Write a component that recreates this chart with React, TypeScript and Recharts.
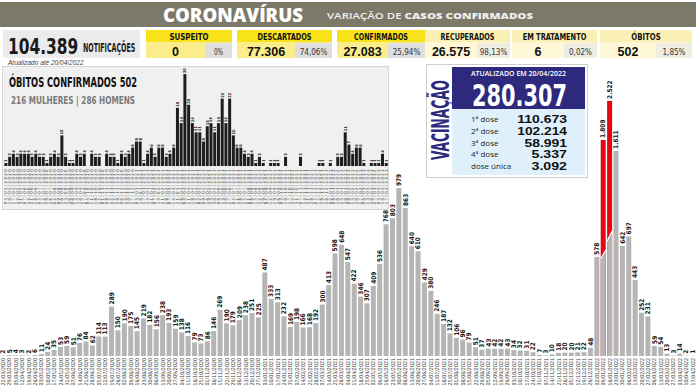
import React from "react";
import { BarChart, Bar, XAxis, YAxis, LabelList } from "recharts";

const NARROW = "'Liberation Sans Narrow', 'DejaVu Sans Condensed', 'Arial Narrow', sans-serif";
const SANS = "'Liberation Sans', Arial, sans-serif";
const ROUND = "'Open Sans', 'Noto Sans', sans-serif";

// one category per week (week start)
const weeks = [
  "22/03/2020", "29/03/2020", "05/04/2020", "12/04/2020", "19/04/2020", "26/04/2020", "03/05/2020", "10/05/2020",
  "17/05/2020", "24/05/2020", "31/05/2020", "07/06/2020", "14/06/2020", "21/06/2020", "28/06/2020", "05/07/2020",
  "12/07/2020", "19/07/2020", "26/07/2020", "02/08/2020", "09/08/2020", "16/08/2020", "23/08/2020", "30/08/2020",
  "06/09/2020", "13/09/2020", "20/09/2020", "27/09/2020", "04/10/2020", "11/10/2020", "18/10/2020", "25/10/2020",
  "01/11/2020", "08/11/2020", "15/11/2020", "22/11/2020", "29/11/2020", "06/12/2020", "13/12/2020", "20/12/2020",
  "27/12/2020",
  "03/01/2021", "10/01/2021", "17/01/2021", "24/01/2021", "31/01/2021", "07/02/2021", "14/02/2021", "21/02/2021",
  "28/02/2021", "07/03/2021", "14/03/2021", "21/03/2021", "28/03/2021", "04/04/2021", "11/04/2021", "18/04/2021",
  "25/04/2021", "02/05/2021", "09/05/2021", "16/05/2021", "23/05/2021", "30/05/2021", "06/06/2021", "13/06/2021",
  "20/06/2021", "27/06/2021", "04/07/2021", "11/07/2021", "18/07/2021", "25/07/2021", "01/08/2021", "08/08/2021",
  "15/08/2021", "22/08/2021", "29/08/2021", "05/09/2021", "12/09/2021", "19/09/2021", "26/09/2021", "03/10/2021",
  "10/10/2021", "17/10/2021", "24/10/2021", "31/10/2021", "07/11/2021", "14/11/2021", "21/11/2021", "28/11/2021",
  "05/12/2021", "12/12/2021", "19/12/2021", "26/12/2021",
  "02/01/2022", "09/01/2022", "16/01/2022", "23/01/2022", "30/01/2022", "06/02/2022", "13/02/2022", "20/02/2022",
  "27/02/2022", "06/03/2022", "13/03/2022", "20/03/2022", "27/03/2022", "03/04/2022", "10/04/2022", "17/04/2022",
];

const casesPerWeek = [
  2, 5, 4, 3, 2, 6, 11, 24, 35, 53,
  59, 51, 76, 84, 62, 114, 113, 289, 150, 190,
  175, 145, 219, 182, 156, 238, 193, 159, 138, 116,
  79, 73, 86, 146, 269, 190, 179, 209, 238, 251,
  225, 487, 333, 313, 232, 169, 198, 166, 168, 192,
  300, 413, 598, 648, 547, 422, 346, 307, 409, 536,
  768, 803, 979, 863, 640, 610, 429, 380, 246, 187,
  132, 106, 96, 79, 51, 37, 43, 42, 42, 43,
  34, 32, 31, 22, 7, 3, 10, 18, 20, 20,
  21, 22, 48, 578, 1809, 2522, 1611, 642, 697, 443,
  252, 231, 59, 54, 13, 3, 14, 2, 1,
];

const deathsPerWeek = [
  1, 3, 4, 3, 4, 4, 4, 3, 4, 3, 3, 1, 3, 4, 3, 10,
  3, 1, 1, 4, 3, 4, 0, 4, 3, 3, 0, 4, 3, 3, 1, 4, 3, 4, 6, 8, 8, 1, 4, 6, 3, 6, 6, 3, 4, 6,
  19, 14, 30, 20, 14, 11, 11, 8, 13, 14, 11, 14, 22, 14, 22, 10, 6, 6, 4, 3, 4, 1, 3, 1,
  0, 1, 1, 1, 0, 3, 0, 0, 0, 3, 0, 0, 0, 0, 1, 1, 0, 1, 0, 3, 3, 11, 7, 4, 6, 6, 1, 0, 1, 1, 1, 4, 1,
];
const deathWeeks = weeks.slice(weeks.length - deathsPerWeek.length);

const redWeeks = ["09/01/2022", "16/01/2022"];

const stats = [
  { label: "SUSPEITO", value: "0", pct: "0%", strong: true },
  { label: "DESCARTADOS", value: "77.306", pct: "74,06%", strong: true },
  { label: "CONFIRMADOS", value: "27.083", pct: "25,94%", strong: true },
  { label: "RECUPERADOS", value: "26.575", pct: "98,13%", strong: false },
  { label: "EM TRATAMENTO", value: "6", pct: "0,02%", strong: false },
  { label: "ÓBITOS", value: "502", pct: "1,85%", strong: false },
];
// x, width, width of value cell
const statLayout = [
  [146, 86, 59],
  [237, 95, 58],
  [337, 88, 51],
  [425, 85, 52],
  [512, 85, 52],
  [600, 92, 56],
];

const doses = [
  ["1ª dose", "110.673"],
  ["2ª dose", "102.214"],
  ["3ª dose", "58.991"],
  ["4ª dose", "5.337"],
  ["dose única", "3.092"],
];

// broken axis: bars above 1000 are drawn squeezed
const BREAK = 1000;
const SQUEEZE = 0.32;
const squeeze = (v: number) => (v <= BREAK ? v : BREAK + (v - BREAK) * SQUEEZE);

const caseData = weeks.map((week, i) => ({ week, value: casesPerWeek[i], shown: squeeze(casesPerWeek[i]) }));
const deathData = deathWeeks.map((week, i) => ({ week, value: deathsPerWeek[i] }));

const fmt = (v: number) => String(v).replace(/\B(?=(\d{3})+(?!\d))/g, ".");

const GRAY = "#b5b5b5";
const RED = "#e30613";

const weekTick = (size: number, color: string, spacing = 0) => (p: any) => {
  const { x, y, payload } = p;
  return (
    <text
      x={x}
      y={y}
      transform={`rotate(-90 ${x} ${y})`}
      textAnchor="end"
      dy="0.35em"
      fontSize={size}
      letterSpacing={spacing}
      fill={color}
      fontFamily={NARROW}
    >
      {payload.value}
    </text>
  );
};

const CaseBar = (p: any) => {
  const { x, y, width, height, payload } = p;
  if (!redWeeks.includes(payload.week)) {
    return <rect x={x} y={y} width={width} height={height} fill={GRAY} />;
  }
  const b = y + height;
  const yl = b - height * 0.45;
  const yr = b - height * 0.49;
  return (
    <g>
      <rect x={x} y={y} width={width} height={height} fill={RED} />
      <polygon points={`${x},${b} ${x},${yl} ${x + width},${yr} ${x + width},${b}`} fill={GRAY} />
      <line x1={x} y1={yl} x2={x + width} y2={yr} stroke="#fff" strokeWidth={1.2} />
    </g>
  );
};

const CaseLabel = (p: any) => {
  const { x, y, width, value } = p;
  const cx = x + width / 2;
  const ty = y - 2;
  return (
    <text
      x={cx}
      y={ty}
      transform={`rotate(-90 ${cx} ${ty})`}
      textAnchor="start"
      dy="0.35em"
      fontSize={6.5}
      fontWeight={700}
      fill="#151515"
      fontFamily={NARROW}
    >
      {fmt(value)}
    </text>
  );
};

const DeathLabel = (p: any) => {
  const { x, y, width, value } = p;
  const cx = x + width / 2;
  const ty = y - 1;
  return (
    <text
      x={cx}
      y={ty}
      transform={`rotate(-90 ${cx} ${ty})`}
      textAnchor="start"
      dy="0.35em"
      fontSize={4}
      fontWeight={700}
      fill={value === 0 ? "#9a9a9a" : "#222"}
      fontFamily={NARROW}
    >
      {value}
    </text>
  );
};

const Overlay = () => (
  <svg width={696} height={385} style={{ position: "absolute", left: 0, top: 0 }}>
    {/* header */}
    <rect x={0} y={2} width={696} height={25} fill="#7d7968" />
    <text x={163} y={22} fontFamily={ROUND} fontWeight={800} fontSize={19} fill="#fff" textLength={140} lengthAdjust="spacingAndGlyphs">
      CORONAVÍRUS
    </text>
    <text x={327} y={19} fontFamily={ROUND} fontWeight={600} fontSize={9} fill="#efefef" textLength={206} lengthAdjust="spacingAndGlyphs">
      VARIAÇÃO DE <tspan fontWeight={800}>CASOS CONFIRMADOS</tspan>
    </text>

    {/* notifications */}
    <rect x={3} y={30} width={137} height={28} fill="#ebebeb" />
    <text transform="translate(8 54) scale(0.78 1)" fontFamily={NARROW} fontWeight={700} fontSize={22} fill="#1a1a1a">
      104.389
    </text>
    <text transform="translate(83 52) scale(0.54 1)" fontFamily={NARROW} fontWeight={700} fontSize={13} fill="#1a1a1a">
      NOTIFICAÇÕES
    </text>

    {stats.map((s, i) => {
      const [x, w, vw] = statLayout[i];
      return (
        <g key={s.label}>
          <rect x={x} y={30} width={w} height={12.5} fill={s.strong ? "#f8e21a" : "#fbf0b3"} />
          <rect x={x} y={43} width={vw} height={15} fill={s.strong ? "#fbed8c" : "#fef8d6"} />
          <rect x={x + vw} y={43} width={w - vw} height={15} fill={s.strong ? "#dedede" : "#efede2"} />
          <text
            x={x + w / 2}
            y={39.5}
            textAnchor="middle"
            fontFamily={NARROW}
            fontWeight={700}
            fontSize={9}
            fill="#111"
            textLength={s.label.length * 4.9}
            lengthAdjust="spacingAndGlyphs"
          >
            {s.label}
          </text>
          <text x={x + vw / 2} y={56} textAnchor="middle" fontFamily={SANS} fontWeight={700} fontSize={12.5} fill="#111">
            {s.value}
          </text>
          <text
            x={x + vw + (w - vw) / 2}
            y={55}
            textAnchor="middle"
            fontFamily={NARROW}
            fontSize={9}
            fill="#333"
            textLength={s.pct.length * 4.6}
            lengthAdjust="spacingAndGlyphs"
          >
            {s.pct}
          </text>
        </g>
      );
    })}
    <text x={8} y={65} fontFamily={SANS} fontStyle="italic" fontSize={6.5} fill="#444">
      Atualizado até 20/04/2022
    </text>

    {/* deaths panel */}
    <rect x={2.5} y={66.5} width={386} height={143} fill="#f0f0f0" stroke="#d6d6d6" />
    <text x={9} y={87} fontFamily={NARROW} fontWeight={700} fontSize={14} fill="#111" textLength={128} lengthAdjust="spacingAndGlyphs">
      ÓBITOS CONFIRMADOS 502
    </text>
    <text x={11} y={103.5} fontFamily={NARROW} fontWeight={700} fontSize={11} fill="#7a7a7a" textLength={124} lengthAdjust="spacingAndGlyphs">
      216 MULHERES | 286 HOMENS
    </text>

    {/* vaccination */}
    <rect x={426.5} y={64.5} width={161} height={113} fill="#fff" stroke="#cfcfcf" />
    <text
      x={449}
      y={160}
      transform="rotate(-90 449 160)"
      fontFamily={NARROW}
      fontWeight={700}
      fontSize={24}
      fill="#2d2a7e"
      textLength={80}
      lengthAdjust="spacingAndGlyphs"
    >
      VACINAÇÃO
    </text>
    <rect x={452} y={67} width={133} height={42} fill="#2d2a7e" />
    <rect x={452} y={109} width={133} height={66} fill="#dff0fb" />
    <text x={518.5} y={76} textAnchor="middle" fontFamily={ROUND} fontWeight={600} fontSize={7} fill="#fff">
      ATUALIZADO EM 20/04/2022
    </text>
    <text x={472} y={106} fontFamily={NARROW} fontWeight={700} fontSize={31} fill="#fff" textLength={95} lengthAdjust="spacingAndGlyphs">
      280.307
    </text>
    {doses.map(([label, value], i) => (
      <g key={label}>
        <text x={471} y={122 + i * 11.8} fontFamily={ROUND} fontSize={8} fill="#222">
          {label}
        </text>
        <text
          x={567}
          y={123 + i * 11.8}
          textAnchor="end"
          fontFamily={SANS}
          fontWeight={700}
          fontSize={10.4}
          fill="#111"
          textLength={value.length * 7.1}
          lengthAdjust="spacingAndGlyphs"
        >
          {value}
        </text>
      </g>
    ))}
  </svg>
);

const App: React.FC = () => {
  return (
    <div style={{ position: "absolute", left: 0, top: 0, width: 696, height: 385, background: "#fff", overflow: "hidden" }}>
      <BarChart width={696} height={385} data={caseData} margin={{ top: 0, right: 0, bottom: 0, left: 0 }} barCategoryGap={0.5}>
        <XAxis
          dataKey="week"
          interval={0}
          height={29}
          tickLine={false}
          axisLine={false}
          tickSize={0}
          tickMargin={2}
          tick={weekTick(5.3, "#3d3d3d")}
        />
        <YAxis hide domain={[0, 2075]} allowDataOverflow />
        <Bar dataKey="shown" isAnimationActive={false} shape={CaseBar}>
          <LabelList dataKey="value" content={CaseLabel} />
        </Bar>
      </BarChart>
      <Overlay />
      <div style={{ position: "absolute", left: 4, top: 68 }}>
        <BarChart width={384} height={142} data={deathData} margin={{ top: 0, right: 0, bottom: 0, left: 0 }} barCategoryGap={0.45}>
          <XAxis
            dataKey="week"
            interval={0}
            height={44}
            tickLine={false}
            axisLine={false}
            tickSize={0}
            tickMargin={2}
            tick={weekTick(4.3, "#4a4a4a", 1.4)}
          />
          <YAxis hide domain={[0, 32]} />
          <Bar dataKey="value" fill="#1d1d1d" isAnimationActive={false}>
            <LabelList dataKey="value" content={DeathLabel} />
          </Bar>
        </BarChart>
      </div>
    </div>
  );
};

export default App;
